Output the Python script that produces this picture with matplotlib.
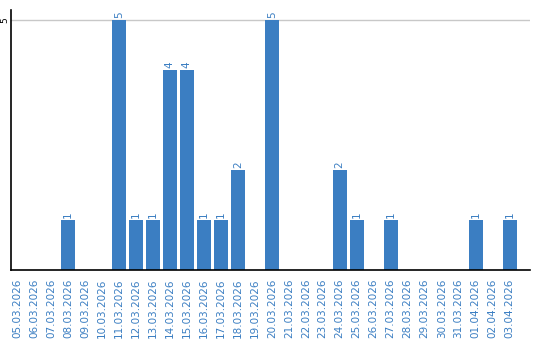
import matplotlib
matplotlib.use("Agg")
from matplotlib import pyplot as plt
import numpy as np

dates = ["05.03.2026", "06.03.2026", "07.03.2026", "08.03.2026", "09.03.2026",
         "10.03.2026", "11.03.2026", "12.03.2026", "13.03.2026", "14.03.2026",
         "15.03.2026", "16.03.2026", "17.03.2026", "18.03.2026", "19.03.2026",
         "20.03.2026", "21.03.2026", "22.03.2026", "23.03.2026", "24.03.2026",
         "25.03.2026", "26.03.2026", "27.03.2026", "28.03.2026", "29.03.2026",
         "30.03.2026", "31.03.2026", "01.04.2026", "02.04.2026", "03.04.2026"]
counts = [0, 0, 0, 1, 0, 0, 5, 1, 1, 4, 4, 1, 1, 2, 0,
          5, 0, 0, 0, 2, 1, 0, 1, 0, 0, 0, 0, 1, 0, 1]

blue = "#3b7ec2"
fig = plt.figure(figsize=(5.4, 3.4), dpi=100)
ax = fig.add_axes([11/540, 70/340, 519/540, 260/340])
x = np.arange(len(dates))
ax.bar(x, counts, width=0.82, color=blue, zorder=2)
for xi, v in zip(x, counts):
    if v > 0:
        ax.text(xi, v + 0.04, str(v), rotation=90, ha="center", va="bottom",
                color=blue, fontsize=7.5)
ax.set_xlim(-0.35, len(dates) - 1 + 1.2)
ax.set_ylim(0, 5.2)
ax.set_yticks([5])
ax.set_yticklabels(["5"], rotation=90, va="center", fontsize=6.5)
ax.yaxis.grid(True, color="#c8c8c8", linewidth=1, zorder=0)
ax.set_xticks(x)
ax.set_xticklabels(dates, rotation=90, color=blue, fontsize=7.5, va="top")
ax.tick_params(axis="x", length=0, pad=6)
ax.tick_params(axis="y", length=0, pad=1)
for s in ["top", "right"]:
    ax.spines[s].set_visible(False)
ax.spines["left"].set_linewidth(1.2)
ax.spines["bottom"].set_linewidth(1.2)
fig.savefig("out.png", dpi=100)
